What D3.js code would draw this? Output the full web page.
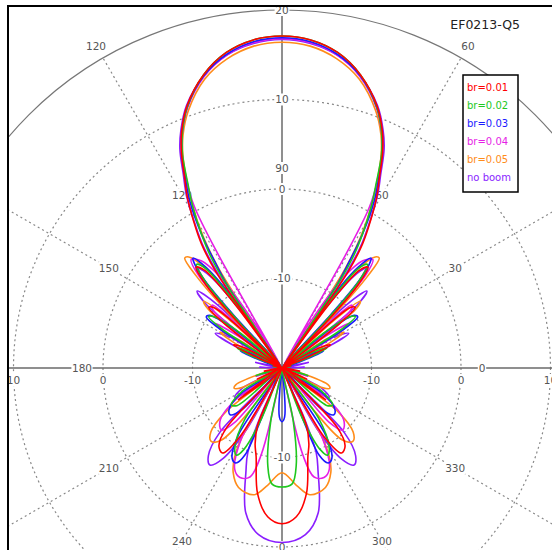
<!DOCTYPE html>
<html lang="en">
<head>
<meta charset="UTF-8">
<title>EF0213-Q5</title>
<script src="https://cdn.jsdelivr.net/npm/d3@7/dist/d3.min.js"></script>
<style>
    body { margin: 0; background: #fff; }
    svg text { font-family: "DejaVu Sans", Verdana, sans-serif; }
    .lbl { fill: #555; font-size: 10.5px; text-anchor: middle; }
</style>
</head>
<body>
<svg id="chart" width="552" height="550"></svg>
<script>
    // half patterns: [offset from boresight in degrees, gain dBi], pattern is symmetric
    let br001 = [[0,17.1],[5,16.8],[10,15.8],[15,13.9],[20,11.1],[23,8.7],[25,6.6],[27,4.0],[29,1.8],[31,-0.8],[33,-3.5],[34.5,-7],[35.5,-25],
        [36.5,-11],[38.5,-6],[40.5,-5.2],[42.5,-7.5],[44,-13],[45,-25],[46.5,-14],[48.5,-9.8],[50.5,-9.4],[52.5,-12],[54,-25],
        [59,-20],[62,-15],[64.5,-14],[67,-17],[69,-25],[76,-19],[80,-25],[86,-19.5],[90,-25],[100,-18],[106,-25],[114,-17],[120,-25],
        [126,-14],[131,-25],[137,-11],[141,-8.8],[145,-8.4],[148.5,-11],[151,-25],[157,-13],[160.5,-11],[163.7,-9.7],[169,-5.7],[174.5,-3.3],[180,-2.6]];
    let br002 = [[0,17.1],[5,16.8],[10,15.8],[15,13.9],[20,11.0],[23,8.5],[25,6.3],[27,3.2],[29,0.5],[31,-2.5],[32.5,-5],[33.5,-8],[34.5,-25],
        [35.5,-12],[37.5,-6],[39.5,-5],[41.5,-7],[43,-13],[44,-25],[50,-14],[53,-10.5],[55,-10],[57,-12],[59,-25],
        [63,-16],[66,-14.5],[69,-17],[71,-25],[80,-19],[84,-25],[98,-25],[106,-17],[111,-25],[120,-15],[126,-13],[130,-13.5],[133,-25],
        [144,-13],[149,-9.8],[152.3,-9],[155,-10],[158,-14],[161,-25],[168,-14],[171.7,-9],[175,-7],[180,-6.7]];
    let br003 = [[0,16.9],[5,16.6],[10,15.6],[15,13.8],[20,11.0],[23,8.6],[25,6.5],[27,3.8],[29,1.2],[31,-2.5],[32.5,-6.5],[33.5,-9],[34.2,-25],
        [35,-11],[37,-6],[39,-4.2],[41,-6],[42.5,-12],[43.5,-25],[51,-13],[54,-10],[56,-9.8],[58,-12],[60,-25],
        [65,-16],[68,-15],[71,-18],[73,-25],[98,-25],[106,-18],[112,-25],[122,-14.5],[128,-12.5],[132,-12.2],[136,-13.5],[139,-25],
        [147,-11],[151,-8.5],[154,-8.2],[157,-9.5],[160,-25],[174,-18],[177,-14.5],[180,-14]];
    let br004 = [[0,16.8],[5,16.5],[10,15.5],[15,13.7],[20,10.9],[23,8.5],[25,6.4],[27,3.5],[28.5,0.5],[29.3,-5],[29.8,-25],
        [31.5,-14],[34,-8],[37,-5],[40,-4.2],[42,-6],[43.5,-12],[44.5,-25],[46,-13],[48,-9.5],[50,-10],[51.5,-25],
        [54,-14],[56.5,-11],[58.5,-13],[60,-25],[100,-25],[108,-17],[114,-25],[124,-14],[130,-11],[135.6,-10.3],[139,-12],[141.5,-25],
        [150,-11],[155,-7.5],[159,-6.9],[163.6,-7.3],[166.5,-10],[169,-25],[180,-25]];
    let br005 = [[0,16.4],[5,16.1],[10,15.1],[15,13.4],[20,10.6],[23,8.3],[25,6.2],[27,3.4],[29,0.5],[31,-3],[32.5,-7],[33.5,-25],
        [35,-12],[37.5,-6],[40,-3.8],[41.5,-3.6],[43,-6],[44.5,-12],[45.5,-25],[47.5,-12],[49.5,-8.5],[51.5,-9.5],[53,-25],
        [57,-14],[60,-12],[63,-15],[65,-25],[100,-25],[106,-17],[110,-14.5],[113,-14.2],[116,-15],[119,-25],
        [128,-12],[132,-9.3],[136,-8.6],[140,-9.5],[143,-14],[145,-25],[150,-11],[152,-8.7],[155,-7.1],[160,-5.8],[167.6,-5.5],[173,-6.8],[180,-8.3]];
    let noBoom = [[0,16.7],[5,16.4],[10,15.5],[15,13.8],[20,11.2],[23,8.9],[25,7.0],[27,4.3],[29,2.0],[31,-1.0],[33,-4],[34.5,-9],[35.5,-25],
        [36,-12],[38,-7],[40,-5.5],[42,-8],[43.5,-25],[45.5,-10],[47.8,-7.2],[50,-9],[51.5,-25],[58,-14],[62.5,-11.6],[65,-14],[67,-25],
        [78,-17],[82,-25],[88,-17.5],[92,-25],[96,-25],[104,-18],[110,-25],[117,-15],[121.7,-13.8],[125,-15.5],[128,-25],
        [136,-10],[140,-7.2],[143.4,-6.5],[147,-8],[150,-12],[153,-25],[156,-14],[158,-9.8],[160.6,-7.9],[166,-3.3],[172,-1.2],[180,-0.5]];

    let seriesNames = ['br=0.01', 'br=0.02', 'br=0.03', 'br=0.04', 'br=0.05', 'no boom'];
    let seriesData = [br001, br002, br003, br004, br005, noBoom];
    let colors = ['#ff0000', '#1ec81e', '#1a1aff', '#e61ee6', '#ff8c1a', '#8a1eff'];

    let angleTicks = [0, 30, 60, 90, 120, 150, 180, 210, 240, 270, 300, 330];
    let ringTicks = [-10, 0, 10, 20];
    let title = 'EF0213-Q5';

    let cx = 282, cy = 368;
    let svg = d3.select('#chart');

    let r = d3.scaleLinear().domain([-20, 20]).range([0, 358]).clamp(true);

    svg.append('clipPath').attr('id', 'plot')
        .append('rect').attr('x', 9).attr('y', 7).attr('width', 560).attr('height', 560);

    let plot = svg.append('g').attr('clip-path', 'url(#plot)');
    let g = plot.append('g').attr('transform', 'translate(' + cx + ',' + cy + ')');

    // grid
    g.selectAll('.ring')
        .data(ringTicks)
        .enter().append('circle')
        .attr('r', d => r(d))
        .attr('fill', 'none')
        .attr('stroke', d => d === 20 ? '#777' : '#888')
        .attr('stroke-width', 1.2)
        .attr('stroke-dasharray', d => d === 20 ? null : '2,3');

    g.selectAll('.spoke')
        .data(angleTicks.filter(a => a % 90 !== 0))
        .enter().append('line')
        .attr('x2', a => r(20) * Math.cos(a * Math.PI / 180))
        .attr('y2', a => -r(20) * Math.sin(a * Math.PI / 180))
        .attr('stroke', '#888')
        .attr('stroke-width', 1.2)
        .attr('stroke-dasharray', '2,3');

    g.append('line').attr('x1', -cx).attr('x2', 552 - cx)
        .attr('stroke', '#6a6a6a').attr('stroke-width', 1.5);
    g.append('line').attr('y1', -cy).attr('y2', 550 - cy)
        .attr('stroke', '#6a6a6a').attr('stroke-width', 1.5);

    function boxedLabel(sel, x, y, txt) {
        let t = sel.append('g').attr('transform', 'translate(' + x + ',' + y + ')');
        let w = txt.length * 6.4 + 2;
        t.append('rect').attr('x', -w / 2).attr('y', -6).attr('width', w).attr('height', 12).attr('fill', '#fff');
        t.append('text').attr('class', 'lbl').attr('dy', '0.36em').text(txt);
    }

    // angle labels, inner and outer
    [200, 372].forEach(rad => {
        angleTicks.forEach(a => {
            let x = rad * Math.cos(a * Math.PI / 180), y = -rad * Math.sin(a * Math.PI / 180);
            boxedLabel(g, x, y, String(a));
        });
    });

    // radial labels along the vertical axis
    ringTicks.forEach(v => {
        boxedLabel(g, 0, -r(v), String(v));
        boxedLabel(g, 0, r(v), String(v));
    });
    // radial labels below the horizontal axis
    ringTicks.forEach(v => {
        boxedLabel(g, -r(v), 12, String(v));
        boxedLabel(g, r(v), 12, String(v));
    });

    // patterns
    let line = d3.lineRadial()
        .angle(d => d[0] * Math.PI / 180)
        .radius(d => r(d[1]))
        .curve(d3.curveCatmullRomClosed.alpha(0.5));

    function fullPattern(half) {
        let mirror = half.slice(1, -1).reverse().map(d => [360 - d[0], d[1]]);
        return half.concat(mirror);
    }

    let order = d3.range(seriesData.length).reverse();
    g.selectAll('.pattern')
        .data(order)
        .enter().append('path')
        .attr('d', i => line(fullPattern(seriesData[i])))
        .attr('fill', 'none')
        .attr('stroke', i => colors[i])
        .attr('stroke-width', 1.6)
        .attr('stroke-linejoin', 'round');

    // frame
    svg.append('line').attr('x1', 8).attr('x2', 8).attr('y1', 5).attr('y2', 550).attr('stroke', '#000').attr('stroke-width', 2);
    svg.append('line').attr('x1', 7).attr('x2', 552).attr('y1', 6).attr('y2', 6).attr('stroke', '#000').attr('stroke-width', 2);

    // title
    svg.append('text').attr('x', 520).attr('y', 29).attr('text-anchor', 'end')
        .attr('font-size', '12.5px').attr('fill', '#222').text(title);

    // legend
    let legend = svg.append('g').attr('transform', 'translate(463,75)');
    legend.append('rect').attr('width', 55).attr('height', 117)
        .attr('fill', '#fff').attr('stroke', '#000').attr('stroke-width', 1.5);
    legend.selectAll('.item')
        .data(seriesNames)
        .enter().append('text')
        .attr('x', 4)
        .attr('y', (d, i) => 16 + i * 18)
        .attr('font-size', '10px')
        .attr('fill', (d, i) => colors[i])
        .text(d => d);
</script>
</body>
</html>
